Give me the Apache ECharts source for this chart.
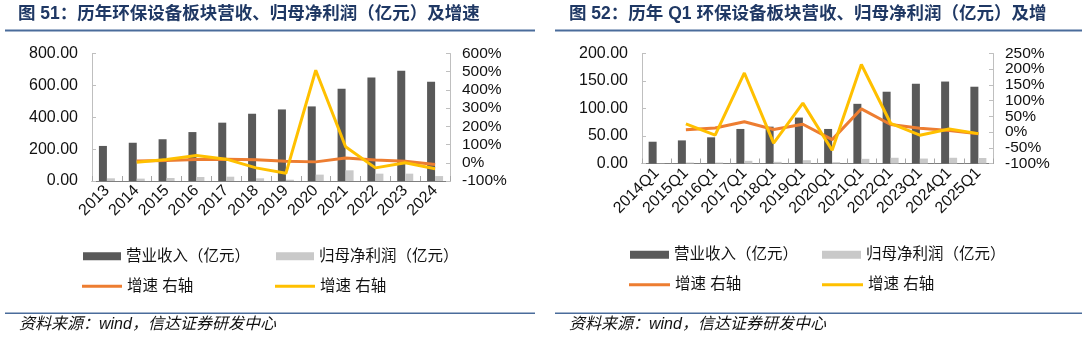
<!DOCTYPE html>
<html>
<head>
<meta charset="utf-8">
<script src="https://cdn.jsdelivr.net/npm/echarts@6/dist/echarts.min.js"></script>
<style>
html,body{margin:0;padding:0;background:#fff;}
#c{width:1082px;height:338px;}
</style>
</head>
<body>
<div id="c"></div>
<script>
// ---- data ----
var years = ['2013','2014','2015','2016','2017','2018','2019','2020','2021','2022','2023','2024'];
var rev51 = [220, 240, 262, 307, 366, 422, 449, 468, 579, 650, 691, 622];
var np51 = [17, 15, 19, 25, 27, 17, 8, 40, 67, 46, 46, 31];
var revG51 = [null, 10, 12, 18, 20, 17, 8, 5, 26, 15, 8, -9];
var npG51 = [null, 3, 18, 40, 20, -28, -58, 508, 88, -28, 0, -33];

var quarters = ['2014Q1','2015Q1','2016Q1','2017Q1','2018Q1','2019Q1','2020Q1','2021Q1','2022Q1','2023Q1','2024Q1','2025Q1'];
var rev52 = [39.6, 42, 47.6, 62.8, 67, 83.5, 62.8, 108.5, 130.5, 145, 149, 139.6];
var np52 = [0.5, 1.8, 1.8, 4.9, 3, 6, 2.4, 8.5, 10.4, 9, 10.4, 10];
var revG52 = [null, 7, 13, 33, 8, 25, -24, 74, 24, 12, 5, -5];
var npG52 = [null, 26, -10, 188, -35, 92, -58, 215, 28, -10, 10, -5];

var leftTicks51 = [0, 800, 200];
var rightTicks51 = [-100, 600, 100];
var leftTicks52 = [0, 200, 50];
var rightTicks52 = [-100, 250, 50];

var title51 = '图 51：历年环保设备板块营收、归母净利润（亿元）及增速';
var title52 = '图 52：历年 Q1 环保设备板块营收、归母净利润（亿元）及增';
var source = '资料来源：wind，信达证券研发中心';

// ---- styles ----
var FONT = "'Liberation Sans', 'Noto Sans CJK SC', sans-serif";
var C_REV = '#595959', C_NP = '#c9c9c9', C_RG = '#ED7D31', C_NG = '#FFC000';
var BLUE = '#4a6c9b', NAVY = '#1f3864';

function xAxis(gi, data) {
  return {
    type: 'category', gridIndex: gi, data: data,
    axisLine: {lineStyle: {color: '#7f7f7f', width: 1}},
    axisTick: {show: true, inside: true, length: 5, lineStyle: {color: '#a6a6a6'}},
    axisLabel: {rotate: 45, interval: 0, margin: 7, color: '#111', fontSize: 16, fontFamily: FONT},
    splitLine: {show: false}
  };
}
function yAxis(gi, pos, t, fmt) {
  return {
    type: 'value', gridIndex: gi, position: pos, min: t[0], max: t[1], interval: t[2],
    axisLine: {show: true, lineStyle: {color: '#bfbfbf'}},
    axisTick: {show: true, inside: true, length: 4, lineStyle: {color: '#bfbfbf'}},
    axisLabel: {color: '#111', fontSize: pos === 'left' ? 16 : 15.5, fontFamily: FONT, margin: pos === 'left' ? 14 : 12, formatter: fmt},
    splitLine: {show: false}
  };
}
var fmt2 = function (v) { return v.toFixed(2); };
var fmtP = function (v) { return v + '%'; };

function bar(name, data, color, xi, yi) {
  return {name: name, type: 'bar', data: data, xAxisIndex: xi, yAxisIndex: yi,
    barWidth: 8, barGap: '0%', itemStyle: {color: color}, z: 2, animation: false};
}
function line(name, data, color, xi, yi, z) {
  return {name: name, type: 'line', data: data, xAxisIndex: xi, yAxisIndex: yi,
    symbol: 'none', showSymbol: false, connectNulls: false,
    lineStyle: {color: color, width: 3}, itemStyle: {color: color}, z: z, animation: false};
}

var legTxt = {color: '#111', fontSize: 15.5, fontFamily: FONT};
function legend(name, left, top, w, h, fmt) {
  var o = {data: [name], left: left, top: top, padding: 0, itemWidth: w, itemHeight: h,
    icon: 'rect', itemGap: 6, textStyle: legTxt, selectedMode: false};
  if (fmt) o.formatter = fmt;
  return o;
}
var growthFmt = function () { return '增速 右轴'; };

var chart = echarts.init(document.getElementById('c'), null, {renderer: 'canvas'});
chart.setOption({
  animation: false,
  backgroundColor: '#fff',
  grid: [
    {left: 92, top: 53.5, width: 358, height: 127.5},
    {left: 642, top: 53.5, width: 351, height: 110}
  ],
  xAxis: [xAxis(0, years), xAxis(1, quarters)],
  yAxis: [
    yAxis(0, 'left', leftTicks51, fmt2),
    yAxis(0, 'right', rightTicks51, fmtP),
    yAxis(1, 'left', leftTicks52, fmt2),
    yAxis(1, 'right', rightTicks52, fmtP)
  ],
  legend: [
    legend('营业收入（亿元）', 83, 248.5, 38, 8),
    legend('归母净利润（亿元）', 276, 248.5, 38, 8),
    legend('营收增速', 82, 278.5, 40, 3, growthFmt),
    legend('利润增速', 275, 278.5, 40, 3, growthFmt),
    legend('营业收入（亿元）', 630, 247, 39, 8),
    legend('归母净利润（亿元）', 822, 247, 39, 8),
    legend('营收增速', 629, 277, 41, 3, growthFmt),
    legend('利润增速', 822, 277, 41, 3, growthFmt)
  ],
  series: [
    bar('营业收入（亿元）', rev51, C_REV, 0, 0),
    bar('归母净利润（亿元）', np51, C_NP, 0, 0),
    line('营收增速', revG51, C_RG, 0, 1, 3),
    line('利润增速', npG51, C_NG, 0, 1, 4),
    bar('营业收入（亿元）', rev52, C_REV, 1, 2),
    bar('归母净利润（亿元）', np52, C_NP, 1, 2),
    line('营收增速', revG52, C_RG, 1, 3, 3),
    line('利润增速', npG52, C_NG, 1, 3, 4)
  ],
  graphic: [
    {type: 'text', left: 18, top: 5.5, style: {text: title51, fill: NAVY, font: 'bold 17.5px ' + FONT}},
    {type: 'text', left: 569, top: 5.5, style: {text: title52, fill: NAVY, font: 'bold 17.5px ' + FONT}},
    {type: 'rect', shape: {x: 5, y: 29.5, width: 530, height: 2}, style: {fill: BLUE}},
    {type: 'rect', shape: {x: 555, y: 29.5, width: 527, height: 2}, style: {fill: BLUE}},
    {type: 'rect', shape: {x: 5, y: 312.5, width: 530, height: 1.5}, style: {fill: BLUE}},
    {type: 'rect', shape: {x: 555, y: 312.5, width: 527, height: 1.5}, style: {fill: BLUE}},
    {type: 'text', left: 19, top: 317, style: {text: source, fill: '#111', font: 'italic 16px ' + FONT}},
    {type: 'text', left: 569, top: 317, style: {text: source, fill: '#111', font: 'italic 16px ' + FONT}}
  ]
});
</script>
</body>
</html>
